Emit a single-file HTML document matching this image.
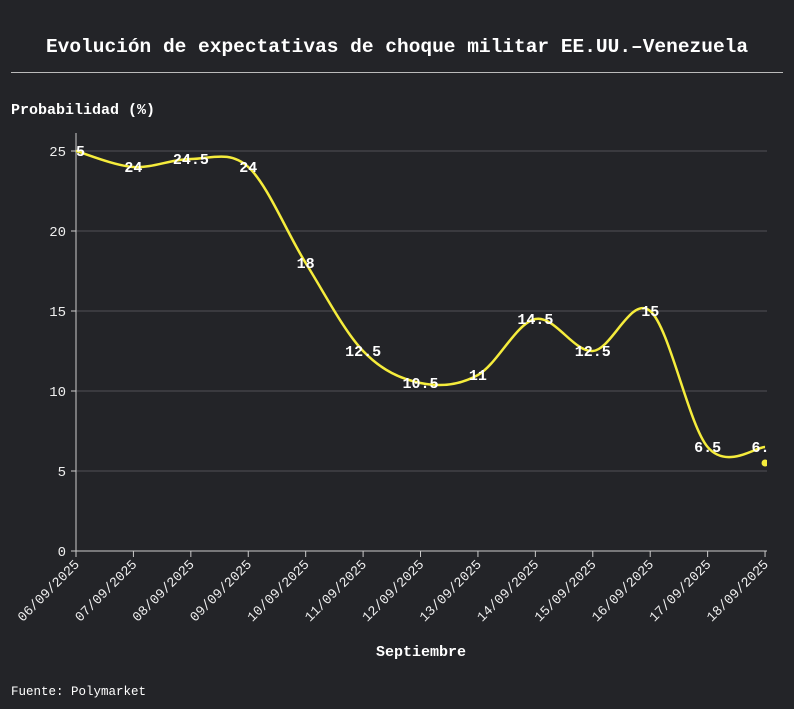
<!DOCTYPE html>
<html><head><meta charset="utf-8"><style>
body{margin:0;background:#232428;}
svg{display:block;font-family:"Liberation Mono",monospace;}
</style></head><body>
<svg id="s" width="794" height="709" viewBox="0 0 794 709">
<rect width="794" height="709" fill="#232428"/>
<text x="397" y="52" text-anchor="middle" fill="#fff" font-size="19.5" font-weight="bold">Evolución de expectativas de choque militar EE.UU.–Venezuela</text>
<line x1="11" y1="72.5" x2="783" y2="72.5" stroke="#bbb" stroke-width="1"/>
<text x="11" y="114" fill="#fff" font-size="15" font-weight="bold">Probabilidad (%)</text>
<text x="421" y="656" text-anchor="middle" fill="#fff" font-size="15" font-weight="bold">Septiembre</text>
<text x="11" y="695" fill="#fff" font-size="12.5">Fuente: Polymarket</text>
<g id="g"></g>
</svg>
<script>
const g=document.getElementById('g');let h='';
const X0=76,DX=57.42,Y0=551,K=16;
for(let v=5;v<=25;v+=5){const y=Y0-v*K;h+=`<line x1="${X0}" y1="${y}" x2="767" y2="${y}" stroke="#505156" stroke-width="1"/>`;}
for(let v=0;v<=25;v+=5){const y=Y0-v*K;h+=`<line x1="${X0-5}" y1="${y}" x2="${X0}" y2="${y}" stroke="#ccc"/><text x="${X0-10}" y="${y+5}" text-anchor="end" fill="#eee" font-size="14">${v}</text>`;}
h+=`<line x1="${X0}" y1="133" x2="${X0}" y2="${Y0}" stroke="#ccc"/><line x1="${X0}" y1="${Y0}" x2="767" y2="${Y0}" stroke="#ccc"/>`;
const d=[25,24,24.5,24,18,12.5,10.5,11,14.5,12.5,15,6.5,6.5];
for(let i=0;i<13;i++){const x=X0+i*DX;h+=`<line x1="${x}" y1="${Y0}" x2="${x}" y2="${Y0+6}" stroke="#ccc"/><text transform="translate(${x+4},${Y0+14}) rotate(-45)" text-anchor="end" fill="#eee" font-size="13.5">${String(6+i).padStart(2,'0')}/09/2025</text>`;}
const P=d.map((v,i)=>[X0+i*DX,Y0-v*K]);
let p=`M${P[0][0]},${P[0][1]}`;
for(let i=0;i<P.length-1;i++){const a=P[Math.max(0,i-1)],b=P[i],c=P[i+1],e=P[Math.min(P.length-1,i+2)];
p+=`C${b[0]+(c[0]-a[0])/6},${b[1]+(c[1]-a[1])/6} ${c[0]-(e[0]-b[0])/6},${c[1]-(e[1]-b[1])/6} ${c[0]},${c[1]}`;}
h+=`<defs><clipPath id="c"><rect x="${X0}" y="120" width="691" height="440"/></clipPath></defs>`;
h+=`<g clip-path="url(#c)"><path d="${p}" fill="none" stroke="#f5ec3c" stroke-width="2.5"/><circle cx="${X0+12*DX}" cy="${Y0-5.5*K}" r="3.5" fill="#f5ec3c"/>`;
d.forEach((v,i)=>{const x=X0+i*DX,y=Y0-v*K;h+=`<text x="${x}" y="${y+5}" text-anchor="middle" fill="#fff" font-size="15" font-weight="bold">${v}</text>`;});
h+='</g>';
g.innerHTML=h;
</script>
</body></html>
